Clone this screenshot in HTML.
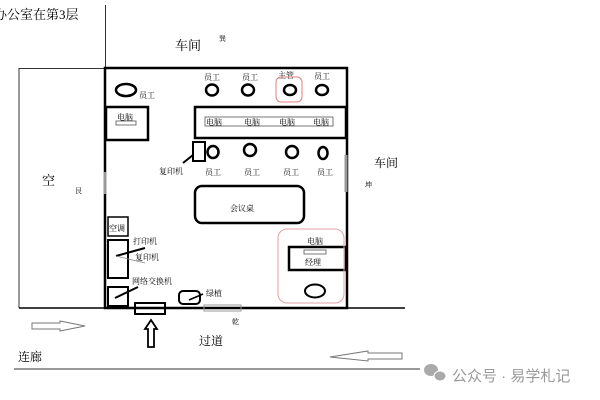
<!DOCTYPE html>
<html><head><meta charset="utf-8"><style>
html,body{margin:0;padding:0;background:#fff;}
svg{display:block;}
text{font-family:"Liberation Serif","Noto Serif CJK SC",serif;fill:#000;}
</style></head><body>
<svg width="600" height="400" viewBox="0 0 600 400" xmlns="http://www.w3.org/2000/svg">
<rect width="600" height="400" fill="#fff"/>
<text x="-6" y="19" font-size="13">办公室在第3层</text>
<line x1="105.5" y1="5" x2="105.5" y2="68" stroke="#333" stroke-width="1"/>
<text x="175" y="50" font-size="13">车间</text>
<text x="219" y="41" font-size="7">巽</text>
<polyline points="19,308 19,68.5 105,68.5" fill="none" stroke="#333" stroke-width="1"/>
<line x1="19" y1="308" x2="405" y2="308" stroke="#000" stroke-width="1.5"/>
<rect x="105" y="68" width="242" height="240" fill="none" stroke="#000" stroke-width="2.5"/>
<!-- top row -->
<ellipse cx="126" cy="90" rx="10" ry="6" fill="none" stroke="#000" stroke-width="2.5"/>
<text x="139" y="98" font-size="8">员工</text>
<g font-size="8"><text x="204" y="80">员工</text><text x="242" y="80">员工</text><text x="278" y="78">主管</text><text x="314" y="79">员工</text></g>
<rect x="276" y="77" width="26" height="25" rx="5" fill="none" stroke="#e08080" stroke-width="1"/>
<g fill="none" stroke="#000" stroke-width="2.5">
<ellipse cx="212" cy="90" rx="6" ry="5.5"/><ellipse cx="248" cy="90" rx="6" ry="5.5"/><ellipse cx="290" cy="90" rx="6" ry="5"/><ellipse cx="322" cy="90" rx="6" ry="5"/>
<rect x="106" y="107" width="42" height="33"/>
<rect x="195" y="107" width="151" height="31"/>
<rect x="193" y="142" width="12" height="19" stroke-width="2"/>
<ellipse cx="213" cy="152" rx="5.5" ry="6"/><ellipse cx="250" cy="150" rx="6" ry="6"/><ellipse cx="292" cy="152" rx="6" ry="6"/><ellipse cx="323" cy="153" rx="4.5" ry="6"/>
<rect x="195" y="186" width="109" height="37" rx="7"/>
</g>
<text x="117" y="120" font-size="8">电脑</text>
<rect x="116" y="121" width="20" height="4" fill="none" stroke="#555" stroke-width="0.8"/>
<rect x="205" y="117" width="128" height="9" fill="none" stroke="#555" stroke-width="0.8"/>
<g font-size="8"><text x="206" y="125">电脑</text><text x="244" y="125">电脑</text><text x="279" y="125">电脑</text><text x="313" y="125">电脑</text></g>
<line x1="193" y1="155" x2="183" y2="163" stroke="#000" stroke-width="2"/>
<text x="159" y="174" font-size="8">复印机</text>
<g font-size="8"><text x="205" y="175">员工</text><text x="244" y="175">员工</text><text x="283" y="175">员工</text><text x="317" y="175">员工</text></g>
<text x="230" y="211" font-size="8">会议桌</text>
<line x1="346" y1="155" x2="346" y2="192" stroke="#999" stroke-width="3"/>
<line x1="105" y1="172" x2="105" y2="194" stroke="#999" stroke-width="3"/>
<text x="374" y="167" font-size="12">车间</text>
<text x="365" y="187" font-size="7">坤</text>
<text x="42" y="185" font-size="13">空</text>
<text x="75" y="193" font-size="7">艮</text>
<g fill="none" stroke="#000" stroke-width="2">
<rect x="108" y="217" width="20" height="19" stroke-width="1.5"/>
<rect x="108" y="240" width="20" height="38"/>
<rect x="108" y="287" width="20" height="19"/>
<rect x="135" y="303" width="30" height="11"/>
<rect x="179" y="291" width="21" height="13" rx="4"/>
<rect x="289" y="247" width="57" height="23" stroke-width="2.5"/>
<ellipse cx="315" cy="291" rx="10" ry="6.5"/>
</g>
<text x="109" y="231" font-size="8">空调</text>
<line x1="116" y1="256" x2="145" y2="248" stroke="#000" stroke-width="2"/>
<line x1="116" y1="256" x2="145" y2="263" stroke="#888" stroke-width="0.8"/>
<text x="133" y="244" font-size="8">打印机</text>
<text x="135" y="260" font-size="8">复印机</text>
<line x1="115" y1="298" x2="138" y2="287" stroke="#000" stroke-width="2"/>
<text x="132" y="284" font-size="8">网络交换机</text>
<line x1="189" y1="300" x2="203" y2="294" stroke="#000" stroke-width="1.5"/>
<text x="206" y="296" font-size="8">绿植</text>
<rect x="204" y="305" width="37" height="6" fill="none" stroke="#999" stroke-width="1"/>
<text x="232" y="324" font-size="7">乾</text>
<rect x="278" y="229" width="66" height="74" rx="9" fill="none" stroke="#e0a0a8" stroke-width="1"/>
<text x="307" y="244" font-size="8">电脑</text>
<rect x="304" y="250" width="22" height="4" fill="none" stroke="#555" stroke-width="0.8"/>
<text x="305" y="265" font-size="8">经理</text>
<!-- arrows -->
<polygon points="32,323 60,323 60,321 85,326 60,331 60,329 32,329" fill="#fff" stroke="#777" stroke-width="1"/>
<polygon points="148,347 154,347 154,329 157,329 151,320 145,329 148,329" fill="#fff" stroke="#000" stroke-width="1.8"/>
<polygon points="402,353 368,353 368,351 330,357 368,361 368,359 402,359" fill="#fff" stroke="#777" stroke-width="1"/>
<text x="199" y="345" font-size="12">过道</text>
<text x="18" y="361" font-size="12">连廊</text>
<line x1="14" y1="369" x2="420" y2="369" stroke="#333" stroke-width="1"/>
<!-- watermark -->
<ellipse cx="431" cy="370" rx="7" ry="6" fill="#aaa"/>
<ellipse cx="440" cy="376" rx="6" ry="5" fill="#aaa" stroke="#fff" stroke-width="1"/>
<text x="452" y="381" font-size="15" style="fill:#999;font-family:'Liberation Sans','Noto Sans CJK SC',sans-serif">公众号 · 易学札记</text>
</svg>
</body></html>
